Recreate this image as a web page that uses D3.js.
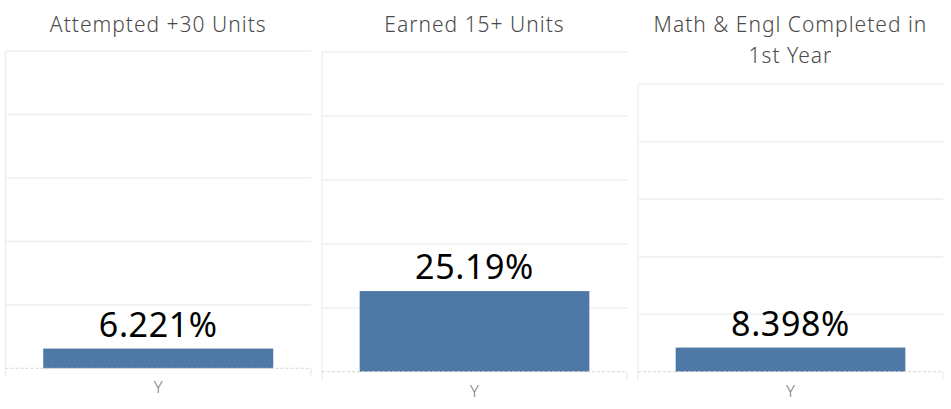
<!DOCTYPE html>
<html>
<head>
<meta charset="utf-8">
<script src="https://cdn.jsdelivr.net/npm/d3@7"></script>
<style>
  html, body { margin: 0; padding: 0; background: #fff; }
  svg { display: block; }
</style>
</head>
<body>
<svg id="chart" width="951" height="409"></svg>
<script>
// ---- data ----
const panelTitles = [["Attempted +30 Units"], ["Earned 15+ Units"], ["Math & Engl Completed in", "1st Year"]];
const categories = ["Y"];
const values = [6.221, 25.19, 8.398];
const valueLabels = ["6.221%", "25.19%", "8.398%"];
const gridTicks = [0, 20, 40, 60, 80, 100];

// ---- layout ----
const panelLeft = [5.5, 322, 638];
const panelRight = [311, 627, 943];
const panelTop = [51, 51.7, 84.3];
const panelBottom = [368.3, 371.7, 371.7];
const FONT = "'Noto Sans', 'Open Sans', sans-serif";

const svg = d3.select("#chart");

values.forEach((v, i) => {
  const g = svg.append("g");
  const x = d3.scaleBand().domain(categories).range([panelLeft[i], panelRight[i]])
    .paddingInner(0).paddingOuter(0.164);
  const y = d3.scaleLinear().domain([0, 100]).range([panelBottom[i], panelTop[i]]);

  // gridlines
  g.selectAll("line.grid").data(gridTicks.filter(t => t > 0)).enter().append("line")
    .attr("x1", panelLeft[i]).attr("x2", panelRight[i])
    .attr("y1", d => y(d)).attr("y2", d => y(d))
    .attr("stroke", "#efefef").attr("stroke-width", 1.5);

  // left border
  g.append("line")
    .attr("x1", panelLeft[i]).attr("x2", panelLeft[i])
    .attr("y1", y(100)).attr("y2", y(0) + 8)
    .attr("stroke", "#efefef").attr("stroke-width", 1.5);
  // right tick at baseline end
  g.append("line")
    .attr("x1", panelRight[i]).attr("x2", panelRight[i])
    .attr("y1", y(0)).attr("y2", y(0) + 8)
    .attr("stroke", "#efefef").attr("stroke-width", 1.5);

  // bar
  g.selectAll("rect.bar").data(categories).enter().append("rect")
    .attr("x", d => x(d)).attr("width", x.bandwidth())
    .attr("y", y(v)).attr("height", y(0) - y(v))
    .attr("fill", "#4e79a7");

  // baseline (dashed)
  g.append("line")
    .attr("x1", panelLeft[i]).attr("x2", panelRight[i])
    .attr("y1", y(0)).attr("y2", y(0))
    .attr("stroke", "#d6d6d6").attr("stroke-width", 1)
    .attr("stroke-dasharray", "3,2");

  // value label
  g.selectAll("text.val").data(categories).enter().append("text")
    .attr("x", d => x(d) + x.bandwidth() / 2)
    .attr("y", y(v) - 12)
    .attr("text-anchor", "middle")
    .attr("font-family", FONT).attr("font-size", 34).attr("font-weight", 400)
    .attr("letter-spacing", 0.6)
    .attr("fill", "#000")
    .text(valueLabels[i]);

  // category label
  g.selectAll("text.cat").data(categories).enter().append("text")
    .attr("x", d => x(d) + x.bandwidth() / 2)
    .attr("y", y(0) + 25)
    .attr("text-anchor", "middle")
    .attr("font-family", FONT).attr("font-size", 16.5).attr("font-weight", 300)
    .attr("fill", "#808080")
    .text(d => d);

  // title
  const cx = (panelLeft[i] + panelRight[i]) / 2;
  const t = g.append("text")
    .attr("text-anchor", "middle")
    .attr("font-family", FONT).attr("font-size", 21).attr("font-weight", 300)
    .attr("letter-spacing", 1)
    .attr("fill", "#4a4a4a");
  panelTitles[i].forEach((line, k) => {
    t.append("tspan").attr("x", cx).attr("y", 32 + k * 31).text(line);
  });
});
</script>
</body>
</html>
